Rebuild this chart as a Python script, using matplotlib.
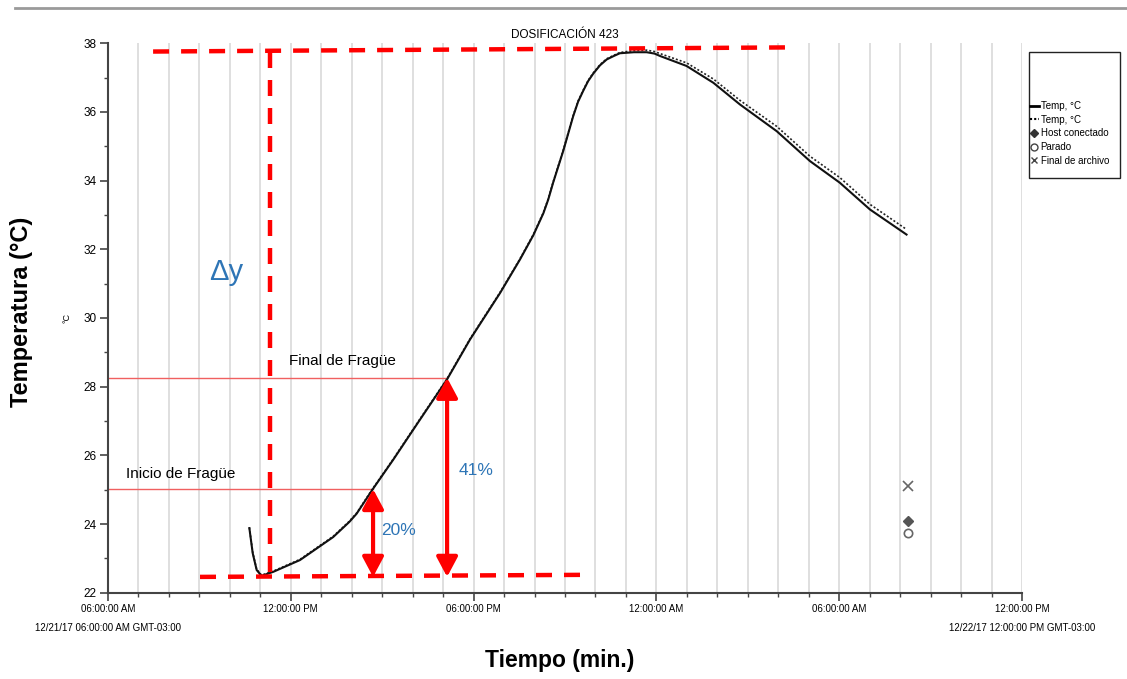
import numpy as np
import matplotlib
matplotlib.use("Agg")
import matplotlib.pyplot as plt
from matplotlib.lines import Line2D
from matplotlib.patches import Rectangle

# Curve data: hours since 12/21/17 06:00 AM, temperature in degC
hours = [4.64, 4.75, 4.88, 5.04, 5.43, 6.30, 7.39, 7.92, 8.16, 8.71, 9.36, 10.24,
         11.12, 11.88, 12.87, 13.52, 13.96, 14.12, 14.29, 14.45, 14.61, 14.94, 15.27,
         15.43, 15.60, 15.76, 15.93, 16.15, 16.37, 16.60, 16.80, 17.26, 17.68, 17.94,
         18.12, 18.99, 19.87, 20.74, 21.95, 23.04, 24.02, 25.01, 26.21]
temp_solid = [23.88, 23.15, 22.66, 22.49, 22.61, 22.95, 23.62, 24.06, 24.30, 25.04, 25.87, 27.04,
              28.20, 29.37, 30.73, 31.70, 32.41, 32.72, 33.05, 33.45, 33.94, 34.86, 35.88,
              36.30, 36.62, 36.90, 37.12, 37.36, 37.53, 37.63, 37.71, 37.74, 37.74, 37.70,
              37.63, 37.34, 36.85, 36.22, 35.44, 34.57, 33.94, 33.16, 32.43]
temp_dotted = [23.90, 23.17, 22.68, 22.51, 22.63, 22.97, 23.64, 24.08, 24.32, 25.06, 25.89, 27.06,
               28.22, 29.39, 30.75, 31.72, 32.43, 32.74, 33.07, 33.47, 33.96, 34.88, 35.90,
               36.32, 36.64, 36.92, 37.14, 37.38, 37.55, 37.65, 37.73, 37.79, 37.80, 37.76,
               37.70, 37.43, 36.96, 36.34, 35.58, 34.71, 34.09, 33.31, 32.58]

# Event markers at end of file
event_hour = 26.26
host_temp = 24.09
stop_temp = 23.74
end_temp = 25.11

# Annotation values
inicio_hour, inicio_temp = 8.70, 25.02
final_hour, final_temp = 11.13, 28.26
min_temp = 22.46
dy_hour = 5.32
top_line = ([1.48, 22.22], [37.76, 37.88])
bottom_line = ([3.02, 15.59], [22.46, 22.52])

xtick_pos = [0, 6, 12, 18, 24, 30]
xtick_labels = ["06:00:00 AM\n12/21/17 06:00:00 AM GMT-03:00", "12:00:00 PM",
                "06:00:00 PM", "12:00:00 AM", "06:00:00 AM",
                "12:00:00 PM\n12/22/17 12:00:00 PM GMT-03:00"]
ytick_pos = [22, 24, 26, 28, 30, 32, 34, 36, 38]

sans = ["Liberation Sans", "DejaVu Sans"]
red = "#ff0000"
blue = "#2e75b6"

fig = plt.figure(figsize=(11.27, 6.79), dpi=100)
ax = fig.add_axes([108 / 1127, 86.3 / 679, 914 / 1127, 549.4 / 679])

# hourly vertical grid
for h in range(1, 31):
    ax.axvline(h, color="#dcdcdc", lw=1.3, zorder=0)

ax.plot(hours, temp_dotted, color="#222222", lw=1.2, ls=(0, (1.2, 1.2)), zorder=3)
ax.plot(hours, temp_solid, color="#111111", lw=1.5, zorder=4)

ax.plot(event_hour, end_temp, marker="x", color="#666666", ms=7, mew=1.2, ls="none")
ax.plot(event_hour, host_temp, marker="D", color="#555555", ms=5, ls="none")
ax.plot(event_hour, stop_temp, marker="o", mfc="white", mec="#666666", ms=6, mew=1.2, ls="none")

ax.set_xlim(0, 30)
ax.set_ylim(22, 38)
ax.set_xticks(xtick_pos)
ax.set_xticklabels(xtick_labels, family=sans, fontsize=7)
for lab in ax.get_xticklabels():
    lab.set_linespacing(2.1)
ax.set_xticks(np.arange(0, 31, 1), minor=True)
ax.set_yticks(ytick_pos)
ax.set_yticklabels([str(v) for v in ytick_pos], family=sans, fontsize=8.5)
ax.set_yticks(np.arange(22, 39, 1), minor=True)
ax.tick_params(axis="both", which="major", length=6, width=1.2, color="#444444", pad=2)
ax.tick_params(axis="both", which="minor", length=3, width=1.0, color="#444444")
for s in ["top", "right"]:
    ax.spines[s].set_visible(False)
for s in ["left", "bottom"]:
    ax.spines[s].set_color("#444444")
    ax.spines[s].set_linewidth(1.5)

ax.set_title("DOSIFICACIÓN 423", family=sans, fontsize=8.5, pad=4)
ax.set_ylabel("°C", family=sans, fontsize=6.5, labelpad=9)

# red guide lines
ax.plot([0, final_hour], [final_temp, final_temp], color="#f06060", lw=1, zorder=2)
ax.plot([0, inicio_hour], [inicio_temp, inicio_temp], color="#f06060", lw=1, zorder=2)

dash = (0, (3.6, 2.7))
ax.plot(top_line[0], top_line[1], color=red, lw=3.2, ls=dash, zorder=5)
ax.plot([dy_hour, dy_hour], [top_line[1][0], min_temp], color=red, lw=3.2, ls=dash, zorder=5)
ax.plot(bottom_line[0], bottom_line[1], color=red, lw=3.2, ls=dash, zorder=5)

for h, t in [(inicio_hour, inicio_temp), (final_hour, final_temp)]:
    ax.annotate("", xy=(h, min_temp), xytext=(h, t),
                arrowprops=dict(arrowstyle="<|-|>,head_length=0.6,head_width=0.32",
                                color=red, lw=3, mutation_scale=20,
                                shrinkA=0, shrinkB=0), zorder=6)

ax.text(5.94, 28.75, "Final de Fragüe", family=sans, fontsize=11, va="center", ha="left")
ax.text(0.6, 25.45, "Inicio de Fragüe", family=sans, fontsize=11, va="center", ha="left")
ax.text(8.95, 23.8, "20%", family=sans, fontsize=12.5, color=blue, va="center", ha="left")
ax.text(11.5, 25.55, "41%", family=sans, fontsize=12.5, color=blue, va="center", ha="left")
ax.text(3.87, 31.35, "Δy", family=sans, fontsize=21, color=blue, va="center", ha="center")

# outer axis titles
fig.text(22 / 1127, 1 - 312 / 679, "Temperatura (°C)", family=sans, fontsize=17,
         fontweight="bold", rotation=90, ha="center", va="center")
fig.text(560 / 1127, 1 - 660 / 679, "Tiempo (min.)", family=sans, fontsize=16.5,
         fontweight="bold", ha="center", va="center")

# page separator line
fig.add_artist(Line2D([15 / 1127, 1.0], [1 - 8 / 679, 1 - 8 / 679], color="#9a9a9a", lw=2))

# legend box
fig.add_artist(Rectangle((1029 / 1127, 1 - 178 / 679), 91 / 1127, 126 / 679,
                         transform=fig.transFigure, fill=False, ec="#222222", lw=1))
handles = [Line2D([], [], color="black", lw=2),
           Line2D([], [], color="black", lw=1.5, ls=(0, (1, 1))),
           Line2D([], [], color="#333333", marker="D", ms=4, ls="none"),
           Line2D([], [], color="#444444", marker="o", mfc="white", ms=5, ls="none"),
           Line2D([], [], color="#444444", marker="x", ms=5, ls="none")]
labels = ["Temp, °C", "Temp, °C", "Host conectado", "Parado", "Final de archivo"]
fig.legend(handles, labels, loc="upper left", bbox_to_anchor=(1030 / 1127, 1 - 101 / 679),
           frameon=False, prop={"family": sans, "size": 7}, handlelength=0.9,
           handletextpad=0.2, labelspacing=0.38, borderaxespad=0, borderpad=0)

fig.savefig("out.png", dpi=100)
